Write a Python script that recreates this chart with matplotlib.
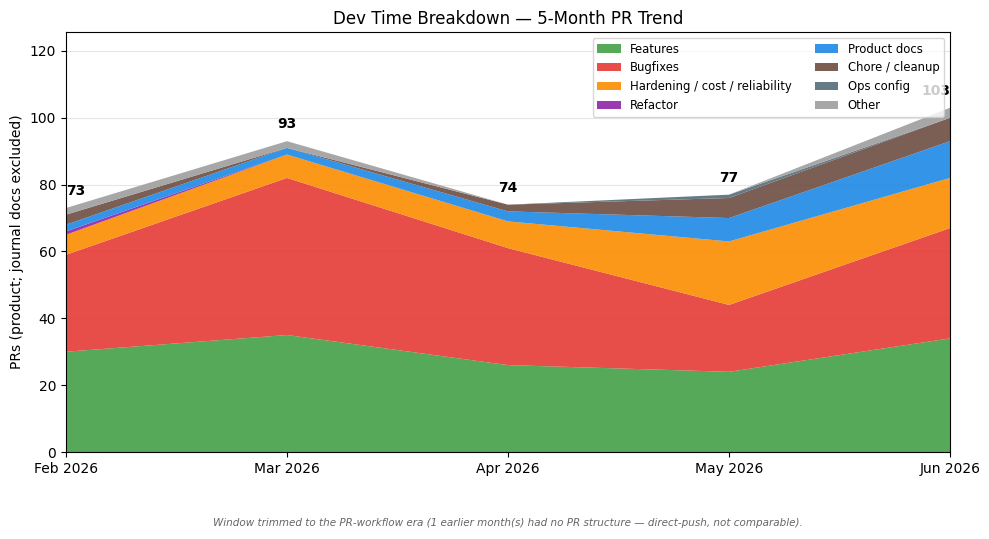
import numpy as np
import matplotlib
matplotlib.use('Agg')
import matplotlib.pyplot as plt

# Data
months      = ['Feb 2026', 'Mar 2026', 'Apr 2026', 'May 2026', 'Jun 2026']
features    = [30, 35, 26, 24, 34]
bugfixes    = [29, 47, 35, 20, 33]
hardening   = [6, 7, 8, 19, 15]
refactor    = [1, 0, 0, 0, 0]
productDocs = [2, 2, 3, 7, 11]
chore       = [3, 0, 2, 6, 7]
opsConfig   = [0, 0, 0, 1, 0]
other       = [2, 2, 0, 0, 3]

labels = ['Features', 'Bugfixes', 'Hardening / cost / reliability', 'Refactor',
          'Product docs', 'Chore / cleanup', 'Ops config', 'Other']
colors = ['#43A047', '#E53935', '#FB8C00', '#8E24AA',
          '#1E88E5', '#6D4C41', '#546E7A', '#9E9E9E']

series = [features, bugfixes, hardening, refactor, productDocs, chore, opsConfig, other]
totals = np.sum(np.array(series), axis=0)
x = np.arange(len(months))

fig, ax = plt.subplots(figsize=(9.89, 5.39), dpi=100)
fig.subplots_adjust(left=0.0667, right=0.9606, top=0.9406, bottom=0.1614)

ax.grid(axis='y', color='#e6e6e6', linewidth=0.8)
ax.set_axisbelow(True)
ax.stackplot(x, *series, labels=labels, colors=colors, alpha=0.9)

# Totals above each month
for i, t in enumerate(totals):
    ha = 'center'
    if i == 0:
        ha = 'left'
    elif i == len(totals) - 1:
        ha = 'right'
    ax.annotate(str(t), (x[i], t), xytext=(0, 7), textcoords='offset points',
                ha=ha, va='bottom', fontsize=10, fontweight='bold')

ax.set_xlim(x[0], x[-1])
ax.set_ylim(0, totals.max() * 1.22)
ax.set_xticks(x)
ax.set_xticklabels(months, fontsize=10)
ax.set_ylabel('PRs (product; journal docs excluded)')
ax.set_title('Dev Time Breakdown — 5-Month PR Trend', fontsize=12)
ax.legend(loc='upper right', ncol=2, fontsize=8.4, framealpha=0.8)

fig.text(0.5137, 0.03, 'Window trimmed to the PR-workflow era (1 earlier month(s) had no PR structure '
         '— direct-push, not comparable).', ha='center', va='center',
         fontsize=7.5, style='italic', color='#666666')

plt.savefig('out.png', dpi=100)
